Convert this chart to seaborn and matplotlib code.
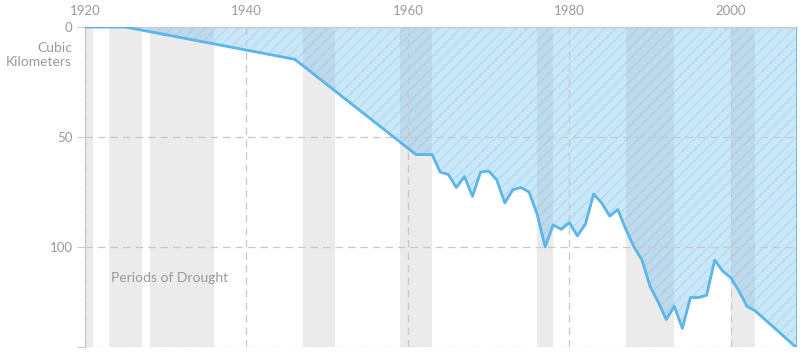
import matplotlib
matplotlib.use("Agg")
import matplotlib.pyplot as plt
import seaborn as sns
import pandas as pd

# -------------------------
# Data
# -------------------------
years = [1920, 1925, 1946, 1961, 1963, 1964, 1965, 1966, 1967, 1968, 1969,
         1970, 1971, 1972, 1973, 1974, 1975, 1976, 1977, 1978, 1979, 1980,
         1981, 1982, 1983, 1984, 1985, 1986, 1987, 1988, 1989, 1990, 1991,
         1992, 1993, 1994, 1995, 1996, 1997, 1998, 1999, 2000, 2001, 2002,
         2003, 2008.2]
loss = [0, 0, 14.7, 58, 58, 66, 67, 73, 68, 77, 66,
        65.5, 69.5, 80, 74, 73, 75, 85, 100, 90, 92, 89,
        95, 89.5, 76, 80, 86, 83, 92, 100, 106, 118, 125,
        133, 127, 137, 123, 123, 122, 106, 111, 114, 120, 127,
        129, 146]

drought_start = [1920, 1923, 1928, 1947, 1959, 1976, 1987, 2000]
drought_end = [1921, 1927, 1936, 1951, 1963, 1978, 1993, 2003]

x_ticks = [1920, 1940, 1960, 1980, 2000]
y_ticks = [0, 50, 100]

df = pd.DataFrame({"year": years, "loss": loss})

# -------------------------
# Style
# -------------------------
sns.set_theme(style="white")
plt.rcParams["font.family"] = ["Lato", "DejaVu Sans"]
plt.rcParams["hatch.linewidth"] = 0.6

text_grey = "#9a9a9a"
line_blue = "#5db5ea"

fig = plt.figure(figsize=(8.08, 3.59), dpi=100)
ax = fig.add_axes([85 / 808, 1 - 347 / 359, 712 / 808, 320 / 359])

# drought periods
for s, e in zip(drought_start, drought_end):
    ax.axvspan(s, e, color="#ebebeb", lw=0, zorder=0)

# filled area + hatching
ax.fill_between(df["year"], 0, df["loss"], facecolor=line_blue, alpha=0.32,
                edgecolor="none", zorder=1)
ax.fill_between(df["year"], 0, df["loss"], facecolor="none", hatch="///",
                edgecolor=(0.36, 0.71, 0.92, 0.35), lw=0, zorder=1.1)
ax.fill_between(df["year"], 0, df["loss"], facecolor="none",
                edgecolor=line_blue, lw=1.2, zorder=1.2)

sns.lineplot(data=df, x="year", y="loss", ax=ax, color=line_blue,
             linewidth=2.0, zorder=3)

# -------------------------
# Axes
# -------------------------
ax.set_xlim(1920, 2008.2)
ax.set_ylim(145.5, 0)
ax.set_xlabel("")
ax.set_ylabel("")

ax.xaxis.tick_top()
ax.set_xticks(x_ticks)
ax.set_xticklabels([str(y) for y in x_ticks])
ax.set_yticks(y_ticks + [145.5])
ax.set_yticklabels([str(v) for v in y_ticks] + [""])

ax.tick_params(axis="x", length=0, pad=7, labelsize=9.5, colors=text_grey)
ax.tick_params(axis="y", left=True, length=5.5, width=0.8, pad=3.5,
               labelsize=9.5, colors="#cccccc", labelcolor=text_grey)

ax.set_axisbelow(False)
ax.grid(True, color="#c8c8c8", linestyle=(0, (6, 4)), linewidth=0.9)

for side in ["right", "bottom"]:
    ax.spines[side].set_visible(False)
for side in ["left", "top"]:
    ax.spines[side].set_color("#cccccc")
    ax.spines[side].set_linewidth(0.9)

ax.set_ylabel("Cubic\nKilometers", rotation=0, ha="right", va="center",
              fontsize=10, color=text_grey, linespacing=1.2)
ax.yaxis.set_label_coords(-0.018, 0.912)

ax.text(1923.2, 114, "Periods of Drought", fontsize=10, color=text_grey,
        ha="left", va="center")

fig.savefig("out.png", dpi=100)
plt.close()
